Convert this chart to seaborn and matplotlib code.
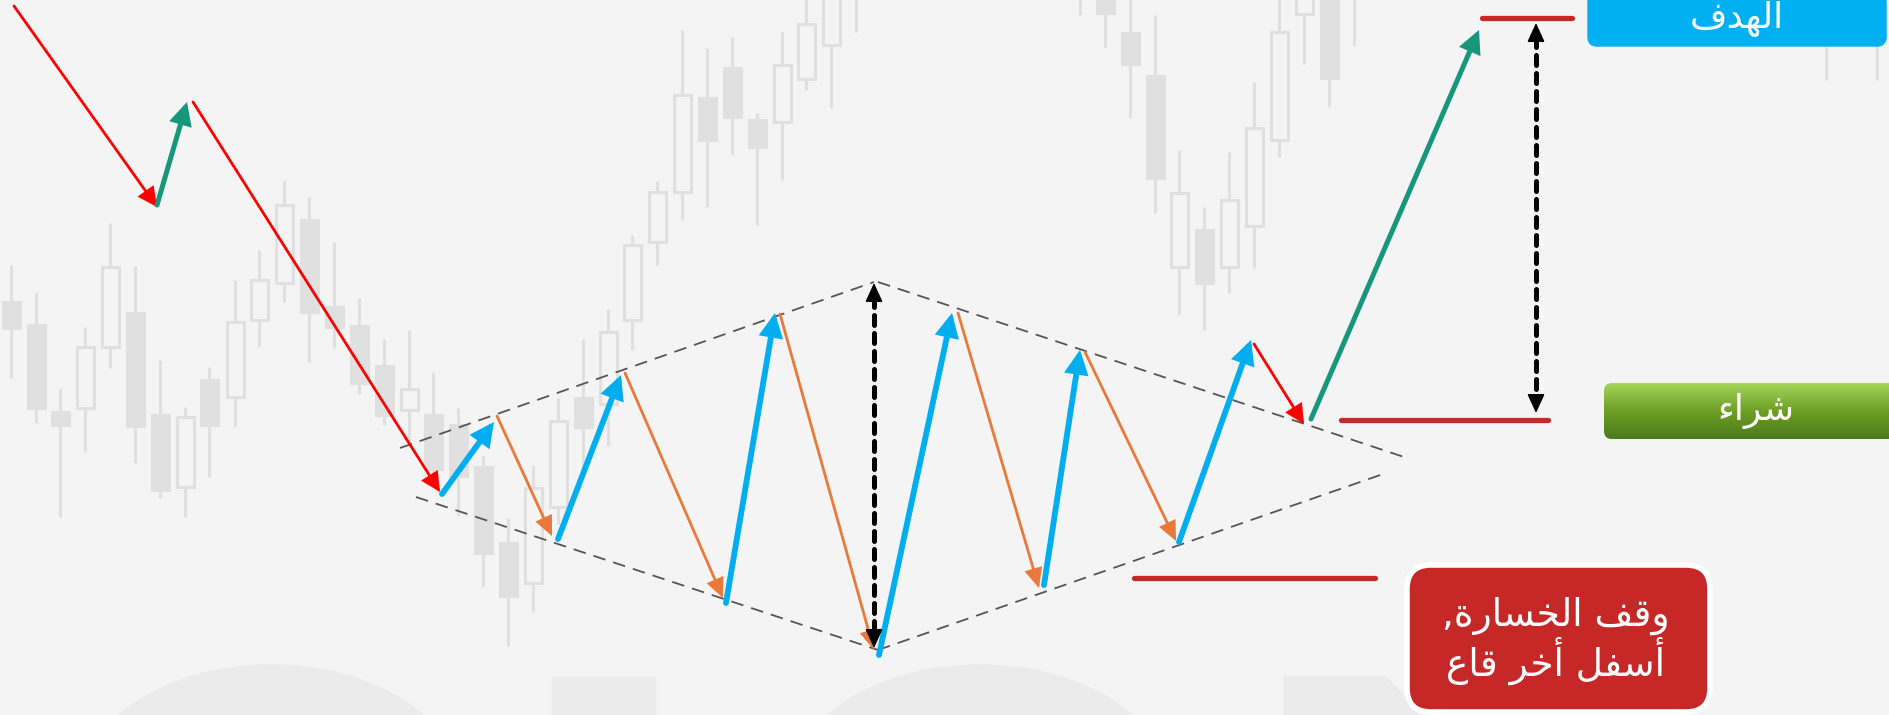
import numpy as np
import pandas as pd
import matplotlib.pyplot as plt
import seaborn as sns
from matplotlib.patches import FancyBboxPatch, Ellipse, Rectangle, Polygon

# ---- background candles (pixel units, y grows downwards) ----
candle_x = [11, 36, 60, 85, 110, 135, 160, 185, 209, 235, 259, 284, 309, 334, 359,
            384, 409, 433, 458, 483, 508, 533, 558, 583, 608, 632, 657, 682, 707,
            732, 757, 782, 806, 831, 856,
            1080, 1105, 1130, 1155, 1179, 1204, 1229, 1254, 1279, 1304, 1329, 1354,
            1826, 1877]
wick_top = [265, 292, 388, 327, 223, 266, 360, 407, 367, 280, 250, 180, 197, 242, 298,
            339, 330, 372, 408, 455, 518, 465, 398, 339, 309, 235, 181, 30, 48,
            37, 113, 32, -5, -5, -5,
            -5, -5, -5, 15, 150, 207, 152, 82, -5, -5, -5, -5,
            0, 0]
wick_bot = [378, 423, 517, 452, 368, 463, 498, 517, 477, 427, 347, 302, 362, 348, 394,
            425, 442, 478, 516, 587, 646, 612, 524, 467, 446, 350, 265, 220, 207,
            155, 225, 180, 90, 108, 32,
            15, 47, 118, 213, 315, 330, 293, 268, 157, 64, 107, 46,
            80, 80]
body_top = [302, 325, 412, 347, 267, 313, 415, 417, 380, 322, 280, 205, 220, 307, 326,
            366, 389, 415, 425, 467, 543, 488, 421, 398, 332, 245, 192, 95, 98,
            68, 120, 65, 24, -10, -30,
            -30, -10, 33, 76, 193, 230, 200, 128, 32, -10, -10, -30,
            5, 5]
body_bot = [328, 408, 425, 408, 347, 426, 490, 487, 425, 397, 320, 283, 312, 327, 383,
            415, 410, 469, 476, 553, 596, 583, 507, 427, 404, 320, 242, 192, 140,
            117, 147, 122, 79, 45, -10,
            -5, 13, 64, 178, 267, 283, 267, 226, 140, 14, 78, -5,
            40, 40]
candle_up = [0, 0, 0, 1, 1, 0, 0, 1, 0, 1, 1, 1, 0, 0, 0,
             0, 1, 0, 0, 0, 0, 1, 1, 0, 1, 1, 1, 1, 0,
             0, 0, 1, 1, 1, 1,
             0, 0, 0, 0, 1, 0, 1, 1, 1, 1, 0, 0,
             0, 0]

# ---- price path (arrows) ----
trend_down = [((14, 6), (157, 207)), ((193, 102), (440, 492)), ((1254, 344), (1304, 424))]
trend_up = [((157, 205), (187, 102)), ((1311, 419), (1479, 30))]
swing_up = [((442, 494), (494, 422)), ((558, 539), (621, 375)), ((726, 603), (775, 313)),
            ((879, 655), (952, 313)), ((1044, 585), (1080, 350)), ((1179, 542), (1251, 340))]
swing_down = [((497, 416), (552, 536)), ((625, 373), (723, 598)), ((780, 314), (874, 650)),
              ((958, 313), (1039, 588)), ((1085, 352), (1176, 541))]

# ---- diamond outline ----
diamond_x = [[400, 874], [878, 1407], [416, 878], [878, 1386]]
diamond_y = [[448, 282], [282, 458], [497, 650], [650, 473]]

# ---- levels ----
height_arrow = (874, 283, 648)
target_arrow = (1536, 23, 413)
levels = {"target": ((1482, 1572), 18), "buy": ((1341, 1548), 420), "stop": ((1134, 1375), 578)}

label_target = "الهدف"
label_buy = "شراء"
label_stop = ["وقف الخسارة,", "أسفل أخر قاع"]

# --- crude arabic shaping (matplotlib has no RTL / joining support) ---
FORMS = {  # isolated, final, initial, medial
    'ا': ('\uFE8D', '\uFE8E', None, None), 'أ': ('\uFE83', '\uFE84', None, None),
    'ل': ('\uFEDD', '\uFEDE', '\uFEDF', '\uFEE0'), 'ه': ('\uFEE9', '\uFEEA', '\uFEEB', '\uFEEC'),
    'د': ('\uFEA9', '\uFEAA', None, None), 'ف': ('\uFED1', '\uFED2', '\uFED3', '\uFED4'),
    'ش': ('\uFEB5', '\uFEB6', '\uFEB7', '\uFEB8'), 'ر': ('\uFEAD', '\uFEAE', None, None),
    'ء': ('\uFE80', None, None, None), 'و': ('\uFEED', '\uFEEE', None, None),
    'ق': ('\uFED5', '\uFED6', '\uFED7', '\uFED8'), 'خ': ('\uFEA5', '\uFEA6', '\uFEA7', '\uFEA8'),
    'س': ('\uFEB1', '\uFEB2', '\uFEB3', '\uFEB4'), 'ة': ('\uFE93', '\uFE94', None, None),
    'ع': ('\uFEC9', '\uFECA', '\uFECB', '\uFECC'),
}


def shape_arabic(text):
    out = []
    for i, ch in enumerate(text):
        if ch not in FORMS:
            out.append(ch)
            continue
        prev = text[i - 1] if i > 0 else ''
        nxt = text[i + 1] if i + 1 < len(text) else ''
        iso, fin, ini, med = FORMS[ch]
        j_prev = fin is not None and prev in FORMS and FORMS[prev][2] is not None
        j_next = ini is not None and nxt in FORMS and FORMS[nxt][1] is not None
        if j_prev and j_next:
            out.append(med)
        elif j_prev:
            out.append(fin)
        elif j_next:
            out.append(ini)
        else:
            out.append(iso)
    return ''.join(reversed(out))


sns.set_theme(style="white")
plt.rcParams['font.family'] = ['DejaVu Sans']

BG = '#f4f4f4'
CANDLE = '#e0e0e0'

fig = plt.figure(figsize=(18.9, 7.15), dpi=100)
fig.patch.set_facecolor(BG)
ax = fig.add_axes([0, 0, 1, 1])
ax.set_facecolor(BG)

# faint watermark letters at the bottom
for cx in [271, 980]:
    ax.add_patch(Ellipse((cx, 790), 380, 250, color='#ebebeb', zorder=0))
ax.add_patch(Rectangle((552, 677), 103, 50, color='#ebebeb', zorder=0))
ax.add_patch(Polygon([(1284, 730), (1284, 677), (1386, 677), (1436, 730)], color='#ebebeb', zorder=0))

# candles
cdf = pd.DataFrame({'x': candle_x, 'wt': wick_top, 'wb': wick_bot,
                    'bt': body_top, 'bb': body_bot, 'up': candle_up})
ax.vlines(cdf['x'], cdf['wt'], cdf['wb'], color=CANDLE, lw=2.2, zorder=1)
for up, sub in cdf.groupby('up'):
    ax.bar(sub['x'], sub['bb'] - sub['bt'], bottom=sub['bt'], width=17,
           color=BG if up else CANDLE, edgecolor=CANDLE, lw=2.2, zorder=2)

# diamond outline
for xs, ys in zip(diamond_x, diamond_y):
    sns.lineplot(x=xs, y=ys, ax=ax, color='#555555', lw=1.3, sort=False, estimator=None,
                 linestyle=(0, (7, 4.5)), zorder=3)


def arrow(p0, p1, color, lw, hl, hw, z=5):
    ax.annotate('', xy=p1, xytext=p0,
                arrowprops=dict(arrowstyle=f'-|>,head_length={hl},head_width={hw}',
                                mutation_scale=1, color=color, lw=lw, shrinkA=0, shrinkB=0,
                                capstyle='round', joinstyle='miter'), zorder=z)


for p0, p1 in swing_down:
    arrow(p0, p1, '#e8793a', 2.0, 11, 5)
for p0, p1 in swing_up:
    arrow(p0, p1, '#00aeef', 4.2, 11, 5.5)
for p0, p1 in trend_down:
    arrow(p0, p1, '#ff0000', 2.0, 11, 5.5)
for p0, p1 in trend_up:
    arrow(p0, p1, '#16967b', 3.6, 11, 5.5)

# measured-move arrows (dashed shaft, solid heads)
for x, y0, y1 in [height_arrow, target_arrow]:
    ax.plot([x, x], [y0 + 14, y1 - 14], color='black', lw=3.6,
            linestyle=(0, (2, 1.6)), dash_capstyle='round', zorder=6)
    arrow((x, y0 + 16), (x, y0), 'black', 1, 12, 5.5, z=7)
    arrow((x, y1 - 16), (x, y1), 'black', 1, 12, 5.5, z=7)

# horizontal levels
for (x0, x1), y in levels.values():
    ax.plot([x0, x1], [y, y], color='#c62828', lw=3.8, solid_capstyle='round', zorder=4)

# label boxes
box_t = FancyBboxPatch((1588, -30), 298, 76, boxstyle='round,pad=0,rounding_size=9',
                       fc='#00b0f0', ec='#00b0f0', lw=1, zorder=8)
ax.add_patch(box_t)
ax.text(1737, 19, shape_arabic(label_target), color='white', fontsize=26,
        ha='center', va='center', zorder=9)

box_b = FancyBboxPatch((1604, 383), 330, 56, boxstyle='round,pad=0,rounding_size=8',
                       fc='none', ec='none', zorder=8)
ax.add_patch(box_b)
grad = np.linspace(0, 1, 64).reshape(-1, 1)
img = ax.imshow(grad, cmap=sns.blend_palette(['#a4d65c', '#6f9e25', '#4a7a1c'], as_cmap=True),
                extent=(1600, 1940, 440, 382), origin='upper', aspect='auto', zorder=8)
img.set_clip_path(box_b)
ax.text(1756, 411, shape_arabic(label_buy), color='white', fontsize=26,
        ha='center', va='center', zorder=9)

box_s = FancyBboxPatch((1407, 565), 303, 147, boxstyle='round,pad=0,rounding_size=24',
                       fc='#c62828', ec='white', lw=4, zorder=8)
ax.add_patch(box_s)
ax.text(1556, 616, shape_arabic(label_stop[0]), color='white', fontsize=27,
        ha='center', va='center', zorder=9)
ax.text(1556, 661, shape_arabic(label_stop[1]), color='white', fontsize=27,
        ha='center', va='center', zorder=9)

ax.set_xlim(0, 1890)
ax.set_ylim(715, 0)
ax.axis('off')
fig.savefig('out.png', dpi=100, facecolor=BG)
